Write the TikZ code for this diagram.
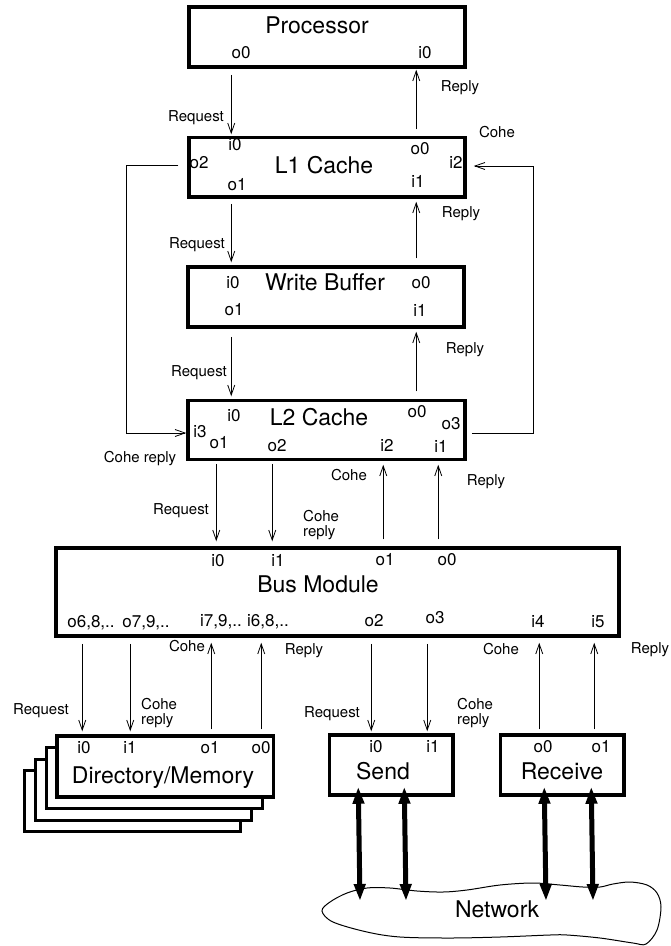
\documentclass[tikz,border=0pt]{standalone}
\usepackage{fontspec}
\setmainfont{TeX Gyre Heros}
\usetikzlibrary{arrows.meta,calc}
\tikzset{
  box/.style={draw, line width=3.5pt, fill=white, inner sep=0pt, rectangle},
  shadowbox/.style={draw, line width=3pt, fill=white, inner sep=0pt, rectangle},
  title/.style={font=\fontsize{23}{27}\selectfont, inner sep=0pt, anchor=base},
  port/.style={font=\fontsize{17}{20}\selectfont, inner sep=0pt, anchor=base},
  lbl/.style={font=\fontsize{15}{14}\selectfont, inner sep=0pt, anchor=base},
  arr/.style={line width=0.8pt, -{Straight Barb[length=10pt,width=7pt,line width=0.8pt]}},
  thick arr/.style={line width=5pt, {Triangle[length=17pt,width=11pt]}-{Triangle[length=17pt,width=11pt]}},
  cloud line/.style={line width=1pt, fill=white}
}
\begin{document}
\begin{tikzpicture}[x=1pt,y=-1pt]
\fill[white] (0,0) rectangle (670,946);
\useasboundingbox (0,0) rectangle (670,946);

% boxes
\node[box, minimum width=276pt, minimum height=60pt] (proc) at (327,37) {};
\node[box, minimum width=276pt, minimum height=59.5pt] (l1) at (327,167.25) {};
\node[box, minimum width=276pt, minimum height=60pt] (wb) at (326,297) {};
\node[box, minimum width=277pt, minimum height=59pt] (l2) at (326.5,430) {};
\node[box, minimum width=563pt, minimum height=88pt] (bus) at (337.5,592) {};
\node[shadowbox, minimum width=216.5pt, minimum height=61pt] (dir3) at (132.25,801) {};
\node[shadowbox, minimum width=216.5pt, minimum height=61pt] (dir2) at (143.25,789.5) {};
\node[shadowbox, minimum width=216.5pt, minimum height=61pt] (dir1) at (154.25,778) {};
\node[box, minimum width=216.5pt, minimum height=61pt] (dir) at (165.25,766.5) {};
\node[box, minimum width=123.5pt, minimum height=60pt] (send) at (391.25,765) {};
\node[box, minimum width=123.5pt, minimum height=60pt] (recv) at (562.25,765) {};

% titles
\node[title] (tproc) at (317,33) {Processor};
\node[title] (tl1) at (324,173) {L1 Cache};
\node[title] (twb) at (325,290) {Write Buffer};
\node[title] (tl2) at (319,425) {L2 Cache};
\node[title] (tbus) at (318,592) {Bus Module};
\node[title] (tdir) at (163,783) {Directory/Memory};
\node[title] (tsend) at (383,779) {Send};
\node[title] (trecv) at (562,779) {Receive};

% ports
\node[port] (po0) at (241,58) {o0};
\node[port] (pi0) at (425,58) {i0};
\node[port] (l1i0) at (235,150) {i0};
\node[port] (l1o0) at (420,154) {o0};
\node[port] (l1o2) at (199,168) {o2};
\node[port] (l1i2) at (456,168) {i2};
\node[port] (l1o1) at (237,190) {o1};
\node[port] (l1i1) at (418,187) {i1};
\node[port] (wbi0) at (233,288) {i0};
\node[port] (wbo0) at (421,288) {o0};
\node[port] (wbo1) at (234,315) {o1};
\node[port] (wbi1) at (420,316) {i1};
\node[port] (l2i0) at (234,421) {i0};
\node[port] (l2o0) at (417,417) {o0};
\node[port] (l2o3) at (451,429) {o3};
\node[port] (l2i3) at (200,437) {i3};
\node[port] (l2o1) at (219,448) {o1};
\node[port] (l2o2) at (277,451) {o2};
\node[port] (l2i2) at (387,451) {i2};
\node[port] (l2i1) at (441,452) {i1};
\node[port] (bi0) at (218,566) {i0};
\node[port] (bi1) at (278,566) {i1};
\node[port] (bo1) at (385,565) {o1};
\node[port] (bo0) at (447,565) {o0};
\node[port] (bo6) at (91,627) {o6,8,..};
\node[port] (bo7) at (146,627) {o7,9,..};
\node[port] (bi7) at (221,626) {i7,9,..};
\node[port] (bi6) at (268,626) {i6,8,..};
\node[port] (bo2) at (374,626) {o2};
\node[port] (bo3) at (435,623) {o3};
\node[port] (bi4) at (538,627) {i4};
\node[port] (bi5) at (598,627) {i5};
\node[port] (di0) at (84,753) {i0};
\node[port] (di1) at (130,753) {i1};
\node[port] (do1) at (210,753) {o1};
\node[port] (do0) at (261,753) {o0};
\node[port] (si0) at (376,752) {i0};
\node[port] (si1) at (433,752) {i1};
\node[port] (ro0) at (543,752) {o0};
\node[port] (ro1) at (601,752) {o1};

% edge labels
\node[lbl] (e1) at (196,121) {Request};
\node[lbl] (e2) at (460,91) {Reply};
\node[lbl] (e3) at (497,137) {Cohe};
\node[lbl] (e4) at (197,248) {Request};
\node[lbl] (e5) at (461,217) {Reply};
\node[lbl] (e6) at (199,376) {Request};
\node[lbl] (e7) at (465,353) {Reply};
\node[lbl] (e8) at (140,462) {Cohe reply};
\node[lbl] (e9) at (349,480) {Cohe};
\node[lbl] (e10) at (486,485) {Reply};
\node[lbl] (e11) at (181,514) {Request};
\node[lbl, anchor=base west] (e12) at (303,521) {\begin{tabular}[t]{@{}l@{}}Cohe\\reply\end{tabular}};
\node[lbl] (e13) at (187,651) {Cohe};
\node[lbl] (e14) at (304,654) {Reply};
\node[lbl] (e15) at (41,714) {Request};
\node[lbl, anchor=base west] (e16) at (141,709) {\begin{tabular}[t]{@{}l@{}}Cohe\\reply\end{tabular}};
\node[lbl] (e17) at (332,717) {Request};
\node[lbl, anchor=base west] (e18) at (457,709) {\begin{tabular}[t]{@{}l@{}}Cohe\\reply\end{tabular}};
\node[lbl] (e19) at (501,654) {Cohe};
\node[lbl] (e20) at (650,653) {Reply};

% vertical connectors
\draw[arr] ($(proc.south west)+(44,6)$) -- ($(l1.north west)+(44,-1.5)$);
\draw[arr] ($(l1.north west)+(229,-6.5)$) -- ($(proc.south west)+(229,1)$);
\draw[arr] ($(l1.south west)+(44,5)$) -- ($(wb.north west)+(45,-3)$);
\draw[arr] ($(wb.north west)+(230,-7)$) -- ($(l1.south west)+(229,3)$);
\draw[arr] ($(wb.south west)+(45,8)$) -- ($(l2.north west)+(45,-2.5)$);
\draw[arr] ($(l2.north west)+(230,-7.5)$) -- ($(wb.south west)+(230,3)$);
\draw[arr] ($(l2.south west)+(30,2.5)$) -- ($(bus.north west)+(162,-5)$);
\draw[arr] ($(l2.south west)+(86,2.5)$) -- ($(bus.north west)+(218,-5)$);
\draw[arr] ($(bus.north west)+(329,-7)$) -- ($(l2.south west)+(197,3.5)$);
\draw[arr] ($(bus.north west)+(384,-7)$) -- ($(l2.south west)+(252,3.5)$);
\draw[arr] ($(bus.south west)+(28,6)$) -- ($(dir.north west)+(27,-3)$);
\draw[arr] ($(bus.south west)+(76,6)$) -- ($(dir.north west)+(75,-3)$);
\draw[arr] ($(dir.north west)+(156,-5)$) -- ($(bus.south west)+(157,5)$);
\draw[arr] ($(dir.north west)+(206,-5)$) -- ($(bus.south west)+(207,5)$);
\draw[arr] ($(bus.south west)+(317,6)$) -- ($(send.north west)+(43.5,-2)$);
\draw[arr] ($(bus.south west)+(373,6)$) -- ($(send.north west)+(99.5,-2)$);
\draw[arr] ($(recv.north west)+(40.5,-4)$) -- ($(bus.south west)+(485,5)$);
\draw[arr] ($(recv.north west)+(95.5,-4)$) -- ($(bus.south west)+(540,5)$);

% coherence loops
\draw[arr] ($(l1.west)+(-9,-2.25)$) -- ++(-52,0) |- ($(l2.west)+(0,3)$);
\draw[arr] ($(l2.east)+(5,3)$) -- ++(62,0) |- ($(l1.east)+(7,-1.25)$);

% network cloud
\draw[cloud line] plot[smooth cycle, tension=0.55] coordinates {
 (322,911) (330,902) (347,893) (367,888) (390,888) (417,891) (443,892)
 (467,890) (500,885) (533,883) (560,885) (583,887) (600,887) (613,884)
 (630,882) (647,885) (657,893) (661,907) (657,930) (646,944)
 (633,943) (600,938) (567,935) (550,935) (500,937) (450,938) (400,937)
 (367,932) (333,922)};
\node[title] (tnet) at (497,917) {Network};

\coordinate (n1) at (360,901);
\coordinate (n2) at (406,901);
\coordinate (n3) at (546,901);
\coordinate (n4) at (593,901);
\draw[thick arr] ($(send.south west)+(30.5,-10)$) -- (n1);
\draw[thick arr] ($(send.south west)+(76.5,-10)$) -- (n2);
\draw[thick arr] ($(recv.south west)+(45.5,-10)$) -- (n3);
\draw[thick arr] ($(recv.south west)+(92.5,-10)$) -- (n4);
\end{tikzpicture}
\end{document}
